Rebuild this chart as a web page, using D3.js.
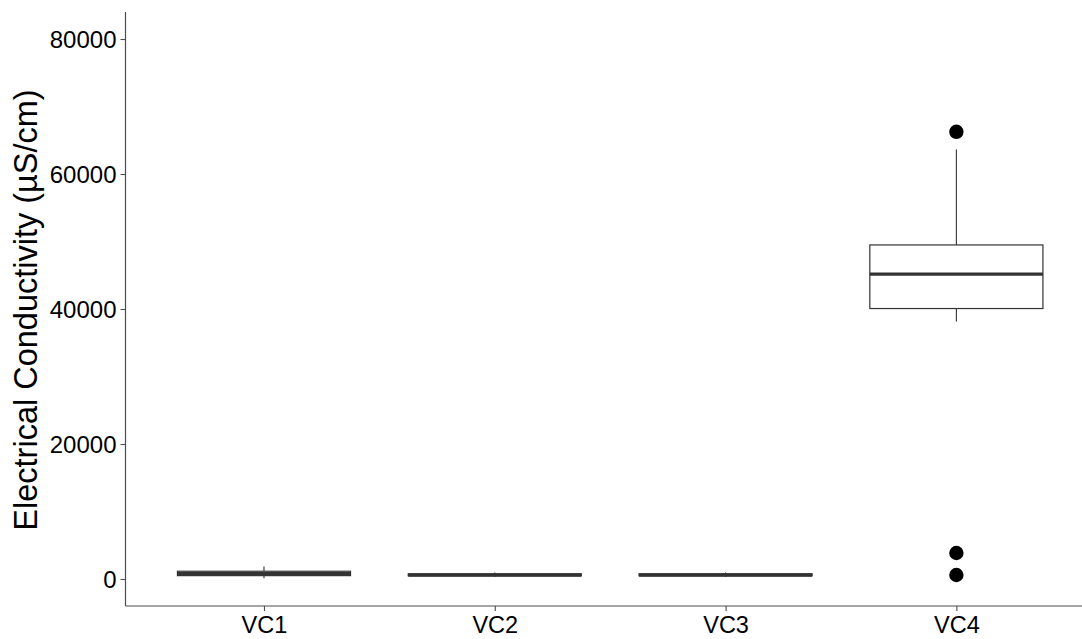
<!DOCTYPE html>
<html>
<head>
<meta charset="utf-8">
<script src="https://cdn.jsdelivr.net/npm/d3@7"></script>
<style>
  html, body { margin: 0; padding: 0; background: #fff; }
  svg { display: block; }
  text { font-family: "Liberation Sans", Arial, sans-serif; }
</style>
</head>
<body>
<svg id="chart" width="1082" height="639"></svg>
<script>
// ---- Data ----
const categories   = ["VC1", "VC2", "VC3", "VC4"];
const whiskerLow   = [100, 300, 300, 38150];
const q1Values     = [500, 480, 480, 40070];
const medianValues = [800, 600, 600, 45160];
const q3Values     = [1150, 760, 760, 49490];
const whiskerHigh  = [1850, 950, 950, 63640];
const outlierCats  = ["VC4", "VC4", "VC4"];
const outlierVals  = [66250, 3850, 590];
const yTicks       = [0, 20000, 40000, 60000, 80000];
const yTitle       = "Electrical Conductivity (µS/cm)";

// ---- Layout ----
const svg = d3.select("#chart");
const padL = 125.5, padT = 12, padB = 606;
const unit = 230.8;                // px per category step
const padR = padL + 4.2 * unit;    // panel runs off the right edge

const x = d3.scalePoint().domain(categories).range([padL + 0.6 * unit, padR - 0.6 * unit]);
const y = d3.scaleLinear().domain([-4000, 84000]).range([padB, padT]);
const boxW = 0.75 * unit;

const boxes = categories.map((c, i) => ({
  c, lo: whiskerLow[i], q1: q1Values[i], med: medianValues[i], q3: q3Values[i], hi: whiskerHigh[i]
}));

const lineCol = "#333333";
const g = svg.append("g");

// whiskers
g.selectAll("line.wl").data(boxes).join("line")
  .attr("x1", d => x(d.c)).attr("x2", d => x(d.c))
  .attr("y1", d => y(d.q1)).attr("y2", d => y(d.lo))
  .attr("stroke", lineCol).attr("stroke-width", 1.1);
g.selectAll("line.wh").data(boxes).join("line")
  .attr("x1", d => x(d.c)).attr("x2", d => x(d.c))
  .attr("y1", d => y(d.q3)).attr("y2", d => y(d.hi))
  .attr("stroke", lineCol).attr("stroke-width", 1.1);

// boxes
g.selectAll("rect.box").data(boxes).join("rect")
  .attr("x", d => x(d.c) - boxW / 2).attr("width", boxW)
  .attr("y", d => y(d.q3)).attr("height", d => y(d.q1) - y(d.q3))
  .attr("fill", "#fff").attr("stroke", lineCol).attr("stroke-width", 1.2);

// medians
g.selectAll("line.med").data(boxes).join("line")
  .attr("x1", d => x(d.c) - boxW / 2).attr("x2", d => x(d.c) + boxW / 2)
  .attr("y1", d => y(d.med)).attr("y2", d => y(d.med))
  .attr("stroke", lineCol).attr("stroke-width", 3.4);

// outliers
g.selectAll("circle.out").data(outlierVals.map((v, i) => ({ c: outlierCats[i], v }))).join("circle")
  .attr("cx", d => x(d.c)).attr("cy", d => y(d.v)).attr("r", 7.2)
  .attr("fill", "#000");

// ---- Axes ----
const axCol = "#4d4d4d";
const yAxis = svg.append("g").attr("transform", `translate(${padL},0)`)
  .call(d3.axisLeft(y).tickValues(yTicks).tickSize(5).tickSizeOuter(0).tickPadding(4).tickFormat(d3.format("d")));
yAxis.select(".domain").attr("stroke", axCol).attr("stroke-width", 1.2).attr("d", `M0,${padT}V${padB}`);
yAxis.selectAll(".tick line").attr("stroke", axCol).attr("stroke-width", 1.1);
yAxis.selectAll(".tick text").attr("fill", "#000").style("font-size", "24px").attr("dy", "0.34em");

const xAxis = svg.append("g").attr("transform", `translate(0,${padB})`)
  .call(d3.axisBottom(x).tickSize(5).tickSizeOuter(0).tickPadding(5));
xAxis.select(".domain").attr("stroke", axCol).attr("stroke-width", 1.2).attr("d", `M${padL},0H${padR}`);
xAxis.selectAll(".tick line").attr("stroke", axCol).attr("stroke-width", 1.1);
xAxis.selectAll(".tick text").attr("fill", "#000").style("font-size", "23.5px").attr("dy", "0.72em");

// y title
svg.append("text")
  .attr("transform", `translate(36.5,${(padT + padB) / 2 + 1}) rotate(-90)`)
  .attr("text-anchor", "middle")
  .attr("fill", "#000")
  .style("font-size", "32.5px")
  .text(yTitle);
</script>
</body>
</html>
